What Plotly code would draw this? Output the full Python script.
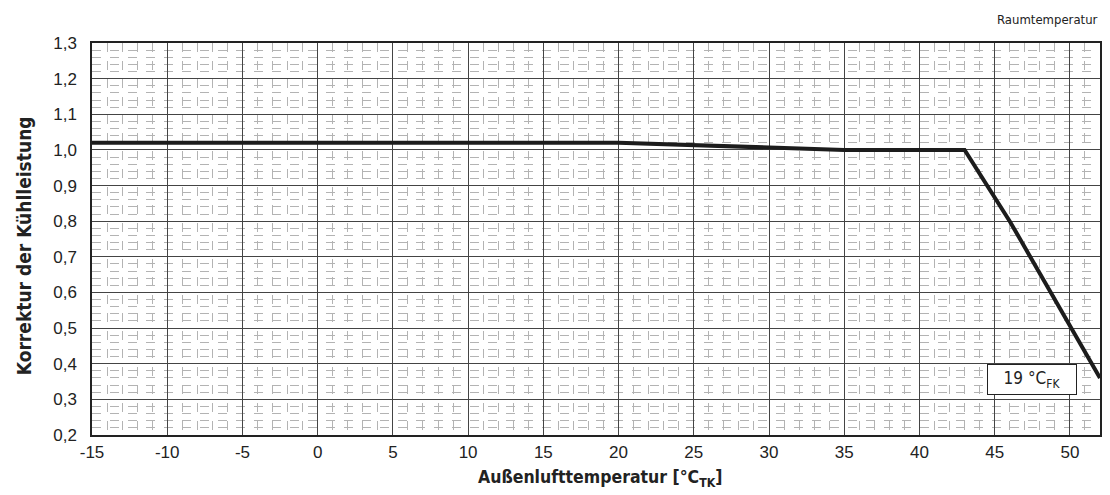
import plotly.graph_objects as go

# Korrekturkurve der Kühlleistung über der Außenlufttemperatur
aussen_temp = [-15, 20, 35, 43, 46, 52]
korrektur = [1.02, 1.02, 1.0, 1.0, 0.8, 0.36]

x_ticks = [-15, -10, -5, 0, 5, 10, 15, 20, 25, 30, 35, 40, 45, 50]
x_labels = ["-15", "-10", "-5", "0", "5", "10", "15", "20", "25", "30", "35", "40", "45", "50"]
y_ticks = [0.2, 0.3, 0.4, 0.5, 0.6, 0.7, 0.8, 0.9, 1.0, 1.1, 1.2, 1.3]
y_labels = ["0,2", "0,3", "0,4", "0,5", "0,6", "0,7", "0,8", "0,9", "1,0", "1,1", "1,2", "1,3"]

TICK_FONT = "Liberation Sans, Arial, sans-serif"
TEXT_FONT = "DejaVu Sans Condensed, Liberation Sans, sans-serif"

fig = go.Figure()
fig.add_trace(go.Scatter(
    x=aussen_temp, y=korrektur, mode="lines",
    line=dict(color="#1c1c1c", width=4),
    showlegend=False, hoverinfo="skip",
))

axis_common = dict(
    showline=True, linecolor="#222", linewidth=1.5, mirror=True,
    gridcolor="#444", gridwidth=1.2, ticks="", zeroline=False,
    tickfont=dict(family=TICK_FONT, size=17, color="#222"),
)

fig.update_xaxes(
    range=[-15, 52], tickmode="array", tickvals=x_ticks, ticktext=x_labels,
    minor=dict(dtick=1, tick0=0, showgrid=True, gridcolor="#b3b3b3", griddash="dash", gridwidth=1),
    ticklabelstandoff=1,
    **axis_common,
)
fig.update_yaxes(
    range=[0.2, 1.3], tickmode="array", tickvals=y_ticks, ticktext=y_labels,
    minor=dict(dtick=0.02, tick0=0.2, showgrid=True, gridcolor="#b3b3b3", griddash="dash", gridwidth=1),
    ticklabelstandoff=10,
    **axis_common,
)

fig.add_annotation(
    text="<b>Außenlufttemperatur [°C<sub>TK</sub>]</b>",
    xref="paper", yref="paper", x=0.504, y=-0.112, xanchor="center", yanchor="middle",
    showarrow=False, font=dict(family=TEXT_FONT, size=17.5, color="#222"),
)
fig.add_annotation(
    text="<b>Korrektur der Kühlleistung</b>",
    xref="paper", yref="paper", x=-0.0673, y=0.482, xanchor="center", yanchor="middle",
    textangle=-90, showarrow=False, font=dict(family=TEXT_FONT, size=19, color="#222"),
)
fig.add_annotation(
    text="Raumtemperatur",
    xref="paper", yref="paper", x=1.0, y=1.0587, xanchor="right", yanchor="middle",
    showarrow=False, font=dict(family=TEXT_FONT, size=13, color="#222"),
)
fig.add_annotation(
    text="19 °C<sub>FK</sub>",
    xref="x", yref="y", x=47.5, y=0.357, xanchor="center", yanchor="middle",
    showarrow=False, font=dict(family=TEXT_FONT, size=17, color="#222"),
    bgcolor="white", bordercolor="#222", borderwidth=1, borderpad=3, width=82,
)

fig.update_layout(
    width=1110, height=495,
    margin=dict(l=92, r=8, t=43, b=60),
    paper_bgcolor="white", plot_bgcolor="white",
)

fig.write_html("out.html")
